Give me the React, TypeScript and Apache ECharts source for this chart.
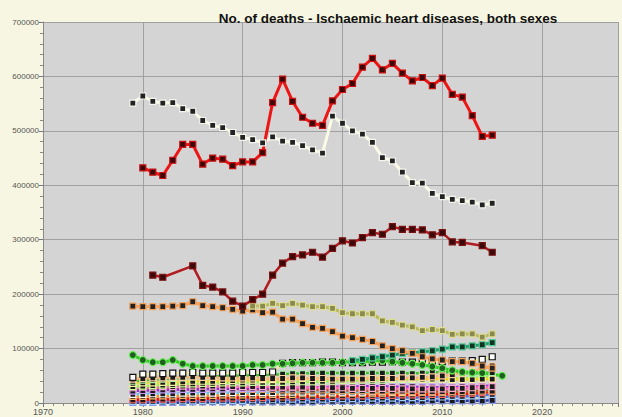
import React, { useEffect, useRef } from "react";
import * as echarts from "echarts";

const TITLE = "No. of deaths - Ischaemic heart diseases, both sexes";
const yTickLabels = ["0", "100000", "200000", "300000", "400000", "500000", "600000", "700000"];
const xTickYears = [1970, 1980, 1990, 2000, 2010, 2020];

// values in thousands, start year given per series
const russiaStart = 1980;
const russia = [432,424,418,446,475,475,439,450,448,436,443,443,460,552,595,554,525,514,510,555,576,587,617,633,612,624,606,592,598,583,597,567,562,528,490,492];
const usaStart = 1979;
const usa = [551,564,554,551,552,541,536,519,510,506,497,488,484,478,489,481,479,473,465,459,527,514,500,494,479,451,445,424,405,404,385,379,374,372,369,364,367];
const ukraineStart = 1981;
const ukraine = [235,231,null,null,252,216,213,204,187,178,190,200,235,257,269,272,277,268,284,298,294,304,313,310,324,319,319,318,309,313,296,295,null,289,277];
const ukStart = 1979;
const uk = [178,177,177,177,178,179,186,179,177,175,172,169,171,166,167,154,154,146,139,137,131,123,120,117,113,105,100,96,91,85,81,79,76,76,73,68,64];
const germanyStart = 1991;
const germany = [178,178,183,179,183,180,177,177,174,166,164,164,164,151,148,143,140,133,135,133,126,127,127,121,127];
const greenStart = 1979;
const green = [88,79,75,75,79,72,68,68,68,68,68,68,70,70,72,72,73,74,74,74,74,75,76,76,77,78,76,74,72,70,67,64,60,57,56,55,null,50];
const tealStart = 2001;
const teal = [78,80,83,85,88,91,92,94,96,99,103,103,105,107,111];

const lowStart = 1979;
const whiteSq = [47,53,53,54,55,55,56,55,55,55,55,56,56,56,57,73,74,74,74,75,75,74,74,74,75,75,76,75,75,75,76,76,77,77,78,80,85];
const peach = [44,45,46,46,47,47,48,47,47,46,46,46,46,45,45,45,46,46,45,45,44,44,44,44,45,45,45,46,46,47,48,50,52,55,58,63,68];
const midGreen = [40,42,43,44,45,46,48,48,49,49,50,50,51,51,52,53,54,54,55,55,55,55,55,55,55,55,55,55,54,55,56,57,56,55,54,55,56];
const yellow = [36,37,37,38,38,39,40,40,40,41,41,42,42,43,43,44,44,45,45,45,45,46,46,46,46,46,45,45,45,44,44,44,43,43,43,44,44];
const lightGreen = [30,31,32,33,34,35,35,36,36,37,37,37,38,38,38,38,39,39,39,40,40,41,41,42,42,42,43,43,43,44,44,45,45,46,46,47,48];
const pink = [28,29,29,30,30,31,31,31,31,31,30,30,30,30,29,29,29,29,28,28,28,28,27,27,27,27,27,26,26,26,26,26,27,27,28,29,30];
const purple = [22,23,23,24,24,25,25,25,26,26,26,27,27,27,28,28,28,29,29,29,30,30,30,31,31,31,30,30,30,29,29,29,29,30,30,31,32];
const brown = [24,24,25,25,25,25,26,26,26,26,26,25,25,25,25,24,24,24,24,24,23,23,23,23,22,22,22,22,21,21,21,21,21,21,21,22,22];
const cyan = [16,16,17,17,17,18,18,18,18,19,19,19,19,19,19,20,20,20,20,20,20,20,20,20,21,21,21,21,21,21,21,21,22,22,22,23,24];
const orange = [12,12,13,13,13,14,14,14,14,15,15,15,15,16,16,16,16,17,17,17,17,18,18,18,18,18,19,19,19,20,20,20,21,22,23,24,25];
const red = [6,6,7,7,7,8,8,8,9,9,9,10,10,10,11,11,11,12,12,12,12,13,13,13,14,14,14,15,15,15,16,16,17,17,18,19,21];
const blue = [3,3,3,4,4,4,4,5,5,5,5,5,6,6,6,6,7,7,7,7,8,8,8,8,9,9,9,10,10,10,11,11,12,12,13,14,16];
const navy = [1,1,1,1,1,1,2,2,2,2,2,2,2,2,2,2,2,2,2,3,3,3,3,3,3,3,3,3,3,3,4,4,4,4,4,4,5];

function pairs(start: number, vals: (number | null)[]) {
  return vals.map((v, i) => [start + i, v == null ? null : v * 1000]);
}

type S = { name: string; start: number; vals: (number | null)[]; line: string; fill: string; border: string; width: number; symbol?: string; size?: number };

const lowSeries: S[] = [
  { name: "navy", start: lowStart, vals: navy, line: "#2a3c9a", fill: "#1a1a1a", border: "#8899ee", width: 2.5 },
  { name: "blue", start: lowStart, vals: blue, line: "#3a78e0", fill: "#1a1a1a", border: "#99ccff", width: 2.5 },
  { name: "red", start: lowStart, vals: red, line: "#ee1111", fill: "#1a1a1a", border: "#ff6666", width: 3 },
  { name: "orange", start: lowStart, vals: orange, line: "#ff8c1a", fill: "#1a1a1a", border: "#ffbb66", width: 2.5 },
  { name: "cyan", start: lowStart, vals: cyan, line: "#55c8f0", fill: "#1a1a1a", border: "#ffffff", width: 2.5 },
  { name: "brown", start: lowStart, vals: brown, line: "#b06030", fill: "#1a1a1a", border: "#e0a070", width: 2.5 },
  { name: "purple", start: lowStart, vals: purple, line: "#8833dd", fill: "#1a1a1a", border: "#cc99ff", width: 2.5 },
  { name: "pink", start: lowStart, vals: pink, line: "#ff66b0", fill: "#1a1a1a", border: "#ffaad0", width: 2.5 },
  { name: "lightGreen", start: lowStart, vals: lightGreen, line: "#99ee55", fill: "#1a1a1a", border: "#ccff99", width: 2.5 },
  { name: "yellow", start: lowStart, vals: yellow, line: "#f2d31b", fill: "#1a1a1a", border: "#fff2a0", width: 2.5 },
  { name: "midGreen", start: lowStart, vals: midGreen, line: "#44bb33", fill: "#1a1a1a", border: "#aaeeaa", width: 2.5 },
  { name: "peach", start: lowStart, vals: peach, line: "#f5b27a", fill: "#1a1a1a", border: "#ffd0a0", width: 2.5 },
  { name: "whiteSq", start: lowStart, vals: whiteSq, line: "#f0eaa0", fill: "#ffffff", border: "#111111", width: 2 },
];

const mainSeries: S[] = [
  { name: "Green", start: greenStart, vals: green, line: "#33cc22", fill: "#1f5f1f", border: "#66ee55", width: 3, symbol: "circle", size: 7 },
  { name: "Teal", start: tealStart, vals: teal, line: "#1e9e6a", fill: "#123322", border: "#55cc99", width: 3 },
  { name: "UK", start: ukStart, vals: uk, line: "#f5a25c", fill: "#222222", border: "#f5a25c", width: 3 },
  { name: "Germany", start: germanyStart, vals: germany, line: "#b8b860", fill: "#8a8a50", border: "#dede90", width: 3 },
  { name: "Ukraine", start: ukraineStart, vals: ukraine, line: "#b01c22", fill: "#3a0a0a", border: "#7a1010", width: 2.5 },
  { name: "USA", start: usaStart, vals: usa, line: "#fbfbe6", fill: "#222222", border: "#f5f5f0", width: 3 },
  { name: "Russia", start: russiaStart, vals: russia, line: "#ee1515", fill: "#3a0808", border: "#cc1010", width: 3 },
];

export default function App() {
  const ref = useRef<HTMLDivElement>(null);
  useEffect(() => {
    if (!ref.current) return;
    const chart = echarts.init(ref.current, undefined, { renderer: "svg" });
    const all = [...lowSeries, ...mainSeries];
    chart.setOption({
      animation: false,
      backgroundColor: "#f6f6e2",
      title: {
        text: TITLE,
        left: 383,
        textAlign: "center",
        top: 6,
        textStyle: { fontFamily: "Liberation Sans, Arial, sans-serif", fontSize: 13.5, fontWeight: "bold", color: "#111" },
      },
      grid: { left: 43, right: 4, top: 22, bottom: 14, show: true, backgroundColor: "#d4d4d4", borderWidth: 0 },
      xAxis: {
        type: "value",
        min: 1970,
        max: 2027.6,
        interval: 10,
        axisLine: { show: true, onZero: false, lineStyle: { color: "#8a8a8a", width: 1 } },
        axisTick: { show: true, length: 4, lineStyle: { color: "#777" } },
        minorTick: { show: true, splitNumber: 10, length: 3, lineStyle: { color: "#888" } },
        splitLine: { show: true, lineStyle: { color: "#a0a0a0", width: 1 } },
        axisLabel: {
          margin: 4,
          fontSize: 9,
          color: "#555",
          fontFamily: "Liberation Sans, Arial, sans-serif",
          formatter: (v: number) => (xTickYears.includes(v) ? String(v) : ""),
        },
      },
      yAxis: {
        type: "value",
        min: 0,
        max: 700000,
        interval: 100000,
        axisLine: { show: true, lineStyle: { color: "#8a8a8a", width: 1 } },
        axisTick: { show: true, length: 4, lineStyle: { color: "#777" } },
        minorTick: { show: true, splitNumber: 5, length: 3, lineStyle: { color: "#888" } },
        splitLine: { show: true, lineStyle: { color: "#a0a0a0", width: 1 } },
        axisLabel: {
          margin: 4,
          fontSize: 8,
          color: "#555",
          fontFamily: "Liberation Sans, Arial, sans-serif",
          formatter: (v: number) => yTickLabels[Math.round(v / 100000)] ?? "",
          rich: {},
        },
      },
      series: all.map((s) => ({
        name: s.name,
        type: "line",
        data: pairs(s.start, s.vals),
        connectNulls: true,
        symbol: s.symbol ?? "rect",
        symbolSize: s.size ?? 6,
        showAllSymbol: true,
        lineStyle: { color: s.line, width: s.width },
        itemStyle: { color: s.fill, borderColor: s.border, borderWidth: 1.2 },
        z: 2,
      })),
    });
    return () => chart.dispose();
  }, []);
  return <div ref={ref} style={{ width: 622, height: 417, position: "absolute", left: 0, top: 0 }} />;
}
